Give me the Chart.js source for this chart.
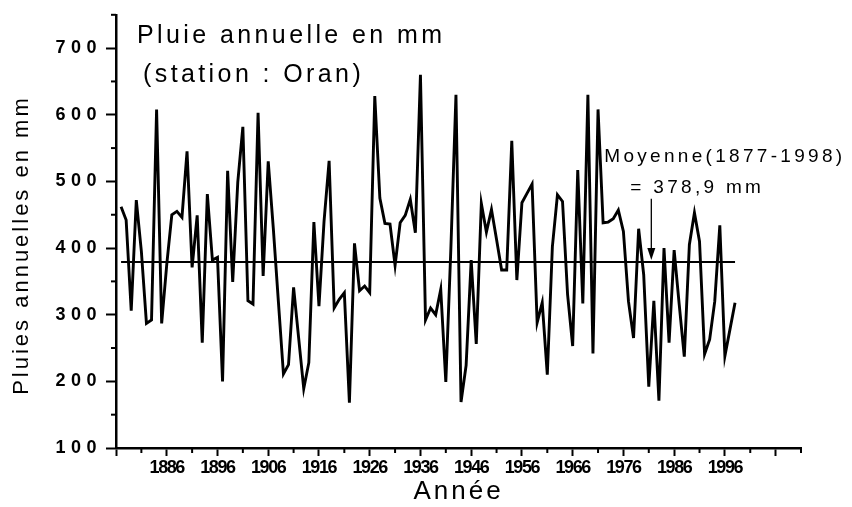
<!DOCTYPE html>
<html>
<head>
<meta charset="utf-8">
<script src="https://cdn.jsdelivr.net/npm/chart.js@4.4.0/dist/chart.umd.min.js"></script>
<style>
  html, body { margin: 0; padding: 0; background: #fff; }
</style>
</head>
<body>
<canvas id="chart1" width="852" height="507"></canvas>
<script>
// Pluie annuelle a Oran, 1877-1998 (mm)
const firstYear = 1877;
const rain = [
  462, 442, 306, 472, 395, 287, 292, 608, 287, 375, // 1877-1886
  450, 455, 446, 545, 371, 449, 258, 481, 382, 386, // 1887-1896
  200, 516, 349, 499, 582, 321, 316, 603, 358, 530, // 1897-1906
  430, 320, 211, 225, 341, 265, 189, 228, 439, 313, // 1907-1916
  440, 531, 310, 323, 333, 168, 407, 336, 343, 333, // 1917-1926
  628, 475, 437, 436, 374, 438, 449, 473, 423, 660, // 1927-1936
  292, 310, 300, 338, 199, 400, 630, 169, 224, 382, // 1937-1946
  256, 467, 424, 458, 413, 367, 367, 561, 352, 468, // 1947-1956
  482, 496, 288, 318, 210, 402, 480, 470, 330, 253, // 1957-1966
  517, 317, 630, 242, 608, 438, 439, 444, 457, 425, // 1967-1976
  320, 265, 429, 360, 192, 321, 171, 400, 258, 397, // 1977-1986
  315, 237, 405, 453, 410, 241, 263, 320, 434, 238, // 1987-1996
  278, 318                                          // 1997-1998
];
const meanValue = 378.9;
const meanYears = [1877, 1998];
const xTickLabels = [1886, 1896, 1906, 1916, 1926, 1936, 1946, 1956, 1966, 1976, 1986, 1996];
const yTickLabels = [100, 200, 300, 400, 500, 600, 700];
const titleLines = ["Pluie annuelle en mm", "(station : Oran)"];
const meanLines = ["Moyenne(1877-1998)", "= 378,9 mm"];

const arrowYear = 1981.5;
const arrowTop = 474;

const points = rain.map((v, i) => ({ x: firstYear + i, y: v }));
const meanPoints = meanYears.map((yr) => ({ x: yr, y: meanValue }));

const FONT = "'Liberation Sans', Arial, sans-serif";
const labelSpacing = { x: "-1.4px", y: "5.5px" };

// letter spacing like the original (wide text, tight x tick labels)
const spacing = {
  id: "spacing",
  beforeDraw(chart) {
    chart.ctx.letterSpacing = "3px";
    Object.keys(labelSpacing).forEach((id) => {
      const s = chart.scales[id];
      if (s._spaced) return;
      const draw = s.drawLabels.bind(s);
      s.drawLabels = (area) => {
        chart.ctx.letterSpacing = labelSpacing[id];
        draw(area);
        chart.ctx.letterSpacing = "3px";
      };
      s._spaced = true;
    });
  },
  afterDraw(chart) {
    const ctx = chart.ctx;
    const xs = chart.scales.x, ys = chart.scales.y;
    const a = chart.chartArea;
    ctx.save();
    ctx.strokeStyle = "#000";
    ctx.lineWidth = 2;
    // short minor ticks
    xs.ticks.forEach((t) => {
      if ((t.value - 1876) % 10 !== 0) {
        const px = xs.getPixelForValue(t.value);
        ctx.beginPath();
        ctx.moveTo(px, a.bottom);
        ctx.lineTo(px, a.bottom + 5);
        ctx.stroke();
      }
    });
    ys.ticks.forEach((t) => {
      if (t.value % 100 !== 0) {
        const py = ys.getPixelForValue(t.value);
        ctx.beginPath();
        ctx.moveTo(a.left - 5, py);
        ctx.lineTo(a.left, py);
        ctx.stroke();
      }
    });

    ctx.fillStyle = "#000";
    ctx.textBaseline = "alphabetic";
    ctx.textAlign = "left";
    ctx.letterSpacing = "3.4px";
    ctx.font = "25px " + FONT;
    ctx.fillText(titleLines[0], 137, 43);
    ctx.fillText(titleLines[1], 143, 82);

    // moyenne + fleche
    const ax = xs.getPixelForValue(arrowYear);
    const tip = ys.getPixelForValue(meanValue) - 2;
    ctx.font = "19px " + FONT;
    ctx.letterSpacing = "3.3px";
    ctx.fillText(meanLines[0], ax - 47, 162);
    ctx.fillText(meanLines[1], ax - 21, 193);
    ctx.lineWidth = 1.3;
    ctx.beginPath();
    ctx.moveTo(ax, ys.getPixelForValue(arrowTop));
    ctx.lineTo(ax, tip - 10);
    ctx.stroke();
    ctx.beginPath();
    ctx.moveTo(ax - 4, tip - 12);
    ctx.lineTo(ax + 4, tip - 12);
    ctx.lineTo(ax, tip);
    ctx.closePath();
    ctx.fill();
    ctx.restore();
  }
};

new Chart(document.getElementById("chart1"), {
  type: "line",
  data: {
    datasets: [
      {
        data: points,
        borderColor: "#000",
        borderWidth: 2.9,
        pointRadius: 0,
        tension: 0,
      },
      {
        data: meanPoints,
        borderColor: "#000",
        borderWidth: 2,
        pointRadius: 0,
      },
    ],
  },
  options: {
    responsive: false,
    animation: false,
    devicePixelRatio: 1,
    layout: { padding: { left: 0, top: 8, right: 51, bottom: 0 } },
    plugins: { legend: { display: false }, tooltip: { enabled: false } },
    scales: {
      x: {
        type: "linear",
        min: 1876,
        max: 2011,
        afterBuildTicks: (scale) => {
          const t = [];
          for (let v = 1876; v <= 2011; v += 5) t.push({ value: v });
          scale.ticks = t;
        },
        afterFit: (scale) => { scale.height = 59; },
        border: { display: true, color: "#000", width: 2.5 },
        grid: {
          drawOnChartArea: false,
          tickLength: 8,
          tickWidth: 2,
          tickColor: (c) => ((c.tick.value - 1876) % 10 === 0 ? "#000" : "rgba(0,0,0,0)"),
        },
        ticks: {
          autoSkip: false,
          maxRotation: 0,
          padding: 1,
          color: "#000",
          font: { family: FONT, size: 18, weight: "bold" },
          callback: (v) => (xTickLabels.includes(v) ? String(v) : ""),
        },
        title: {
          display: true,
          text: "Année",
          color: "#000",
          font: { family: FONT, size: 26 },
          padding: { top: 0, bottom: 0 },
        },
      },
      y: {
        min: 100,
        max: 750,
        afterFit: (scale) => { scale.width = 116; },
        border: { display: true, color: "#000", width: 2.5 },
        grid: {
          drawOnChartArea: false,
          tickLength: 10,
          tickWidth: 2,
          tickColor: (c) => (c.tick.value % 100 === 0 ? "#000" : "rgba(0,0,0,0)"),
        },
        ticks: {
          stepSize: 50,
          padding: 4,
          color: "#000",
          font: { family: FONT, size: 18, weight: "bold" },
          callback: (v) => (yTickLabels.includes(v) ? String(v) : ""),
        },
        title: {
          display: true,
          text: "Pluies annuelles en mm   ",
          color: "#000",
          font: { family: FONT, size: 22 },
          padding: { top: 9, bottom: 0 },
        },
      },
    },
  },
  plugins: [spacing],
});
</script>
</body>
</html>
